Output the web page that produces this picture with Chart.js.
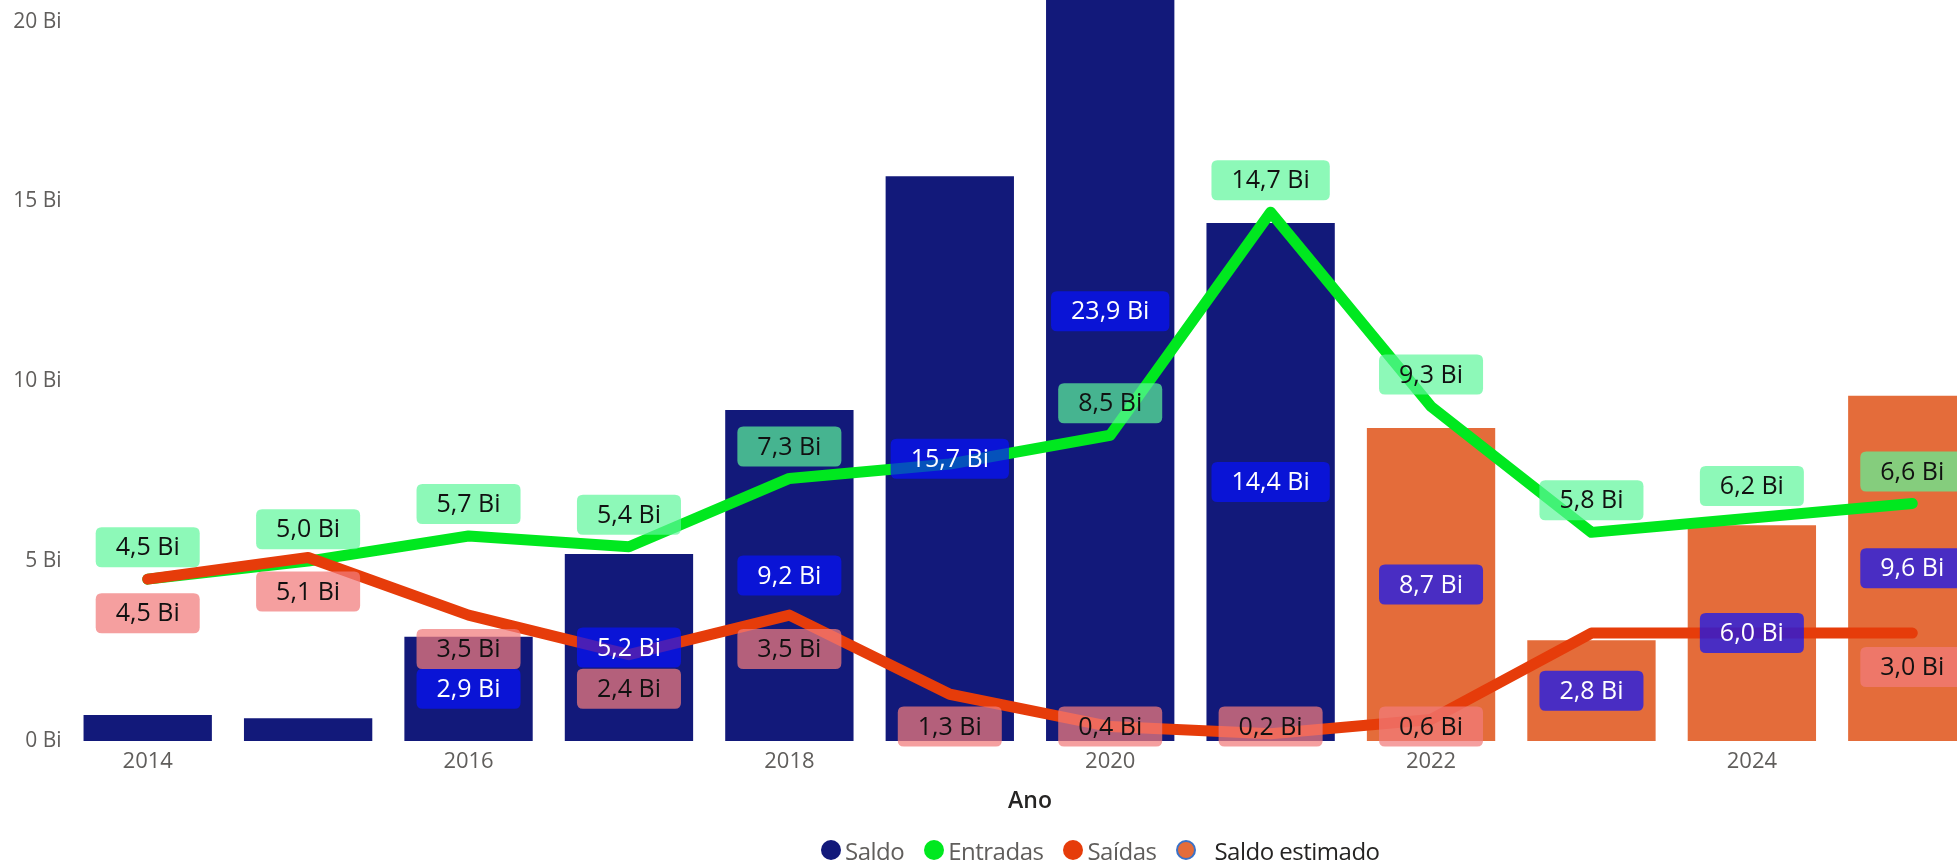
<!DOCTYPE html>
<html>
<head>
<meta charset="utf-8">
<script src="https://cdn.jsdelivr.net/npm/chart.js@4.4.1/dist/chart.umd.min.js"></script>
<style>
    html, body { margin: 0; padding: 0; width: 1957px; height: 861px; overflow: hidden; background: #fff; }
    body { font-family: 'Segoe UI', 'Open Sans', sans-serif; }
    #wrap { position: absolute; left: 0; top: 0; width: 2000px; height: 861px; }
    #legend { position: absolute; left: 821px; top: 835px; height: 30px; display: flex; align-items: center; font-size: 24px; letter-spacing: -0.5px; color: #605E5C; white-space: nowrap; }
    .item { display: flex; align-items: center; margin-right: 20px; }
    .dot { width: 20px; height: 20px; border-radius: 50%; box-sizing: border-box; margin-right: 4px; }
</style>
</head>
<body>
<div id="wrap"><canvas id="saldoChart" width="2000" height="861"></canvas></div>
<div id="legend">
    <div class="item"><span class="dot" style="background:#12197A"></span>Saldo</div>
    <div class="item"><span class="dot" style="background:#00E81F"></span>Entradas</div>
    <div class="item"><span class="dot" style="background:#E63C0A"></span>Saídas</div>
    <div class="item" style="color:#252423"><span class="dot" style="background:#E46C3A;border:2px solid #3A72C8;margin-right:18px"></span>Saldo estimado</div>
</div>

<script>
var anos = ['2014', '2015', '2016', '2017', '2018', '2019', '2020', '2021', '2022', '2023', '2024', '2025'];
var saldo = [0.72, 0.63, 2.9, 5.2, 9.2, 15.7, 23.9, 14.4, null, null, null, null];
var saldoEstimado = [null, null, null, null, null, null, null, null, 8.7, 2.8, 6.0, 9.6];
var entradas = [4.5, 5.0, 5.7, 5.4, 7.3, 7.7, 8.5, 14.7, 9.3, 5.8, 6.2, 6.6];
var saidas = [4.5, 5.1, 3.5, 2.4, 3.5, 1.3, 0.4, 0.2, 0.6, 3.0, 3.0, 3.0];
var yTicks = [0, 5, 10, 15, 20];

// labels Power BI left out (overlap / too small)
var hiddenLabels = {
    'Saldo': ['2014', '2015'],
    'Entradas': ['2019'],
    'Saídas': ['2023', '2024']
};

var fontFamily = "'Segoe UI', 'Open Sans', sans-serif";
Chart.defaults.font.family = fontFamily;

var formatBi = function (v) {
    return v.toFixed(1).replace('.', ',') + ' Bi';
}

var roundBox = function (ctx, x, y, w, h, r) {
    ctx.beginPath();
    ctx.moveTo(x + r, y);
    ctx.lineTo(x + w - r, y);
    ctx.quadraticCurveTo(x + w, y, x + w, y + r);
    ctx.lineTo(x + w, y + h - r);
    ctx.quadraticCurveTo(x + w, y + h, x + w - r, y + h);
    ctx.lineTo(x + r, y + h);
    ctx.quadraticCurveTo(x, y + h, x, y + h - r);
    ctx.lineTo(x, y + r);
    ctx.quadraticCurveTo(x, y, x + r, y);
    ctx.closePath();
}

var boxLabels = {
    id: 'boxLabels',
    afterDatasetsDraw: function (chart) {
        var ctx = chart.ctx;
        var area = chart.chartArea;
        var drawOrder = [0, 3, 1, 2];
        ctx.save();
        ctx.font = '25px ' + fontFamily;
        ctx.textAlign = 'center';
        ctx.textBaseline = 'middle';
        drawOrder.forEach(function (di) {
            var ds = chart.data.datasets[di];
            var meta = chart.getDatasetMeta(di);
            var hidden = hiddenLabels[ds.label] || [];
            meta.data.forEach(function (el, i) {
                var v = ds.data[i];
                if (v === null || hidden.indexOf(anos[i]) >= 0) return;
                var x, y;
                if (ds.type === 'bar') {
                    var c = el.getCenterPoint();
                    x = c.x; y = c.y;
                } else if (ds.labelPos === 'above') {
                    x = el.x; y = el.y - 32;
                } else {
                    x = el.x; y = Math.min(el.y + 34, area.bottom - 14.5);
                }
                var txt = formatBi(v);
                var w = ctx.measureText(txt).width + 40;
                var h = 40;
                ctx.fillStyle = ds.labelBg;
                roundBox(ctx, x - w / 2, y - h / 2, w, h, 6);
                ctx.fill();
                ctx.fillStyle = ds.labelColor;
                ctx.fillText(txt, x, y + 1);
            });
        });
        ctx.restore();
    }
};

new Chart('saldoChart', {
    data: {
        labels: anos,
        datasets: [{
            type: 'bar',
            label: 'Saldo',
            data: saldo,
            backgroundColor: '#12197A',
            grouped: false,
            order: 3,
            labelBg: 'rgba(7,18,254,0.7)',
            labelColor: '#ffffff'
        }, {
            type: 'line',
            label: 'Entradas',
            data: entradas,
            borderColor: '#00E81F',
            borderWidth: 11,
            borderCapStyle: 'round',
            borderJoinStyle: 'round',
            pointRadius: 0,
            tension: 0,
            fill: false,
            order: 1,
            labelPos: 'above',
            labelBg: 'rgba(93,247,154,0.7)',
            labelColor: '#111111'
        }, {
            type: 'line',
            label: 'Saídas',
            data: saidas,
            borderColor: '#E63C0A',
            borderWidth: 11,
            borderCapStyle: 'round',
            borderJoinStyle: 'round',
            pointRadius: 0,
            tension: 0,
            fill: false,
            order: 0,
            labelPos: 'below',
            labelBg: 'rgba(241,124,124,0.73)',
            labelColor: '#111111'
        }, {
            type: 'bar',
            label: 'Saldo estimado',
            data: saldoEstimado,
            backgroundColor: '#E46C3A',
            grouped: false,
            order: 3,
            labelBg: 'rgba(7,18,254,0.7)',
            labelColor: '#ffffff'
        }]
    },
    options: {
        responsive: false,
        animation: false,
        layout: { padding: { left: 0, right: 7.5, top: 0, bottom: 46 } },
        datasets: {
            bar: { categoryPercentage: 1, barPercentage: 0.8 }
        },
        plugins: {
            legend: { display: false },
            tooltip: { enabled: false }
        },
        scales: {
            x: {
                grid: { display: false },
                border: { display: false },
                ticks: {
                    autoSkip: false,
                    maxRotation: 0,
                    padding: 0,
                    color: '#605E5C',
                    font: { size: 22 },
                    callback: function (val, idx) {
                        return idx % 2 === 0 ? anos[idx] : '';
                    }
                },
                title: {
                    display: true,
                    text: 'Ano',
                    color: '#252423',
                    font: { size: 23, weight: '600' },
                    padding: 0
                },
                afterFit: function (scale) {
                    scale.height = 74;
                    scale.paddingLeft = 0;
                    scale.paddingRight = 0;
                }
            },
            y: {
                min: 0,
                max: 20.6,
                grid: { display: false, drawTicks: false },
                border: { display: false },
                afterBuildTicks: function (scale) {
                    scale.ticks = yTicks.map(function (v) { return { value: v }; });
                },
                ticks: {
                    padding: 6,
                    color: '#605E5C',
                    font: { size: 21 },
                    callback: function (v) { return v + ' Bi'; }
                },
                afterFit: function (scale) {
                    scale.width = 67.5;
                    scale.paddingTop = 0;
                    scale.paddingBottom = 0;
                }
            }
        }
    },
    plugins: [boxLabels]
});
</script>
</body>
</html>
